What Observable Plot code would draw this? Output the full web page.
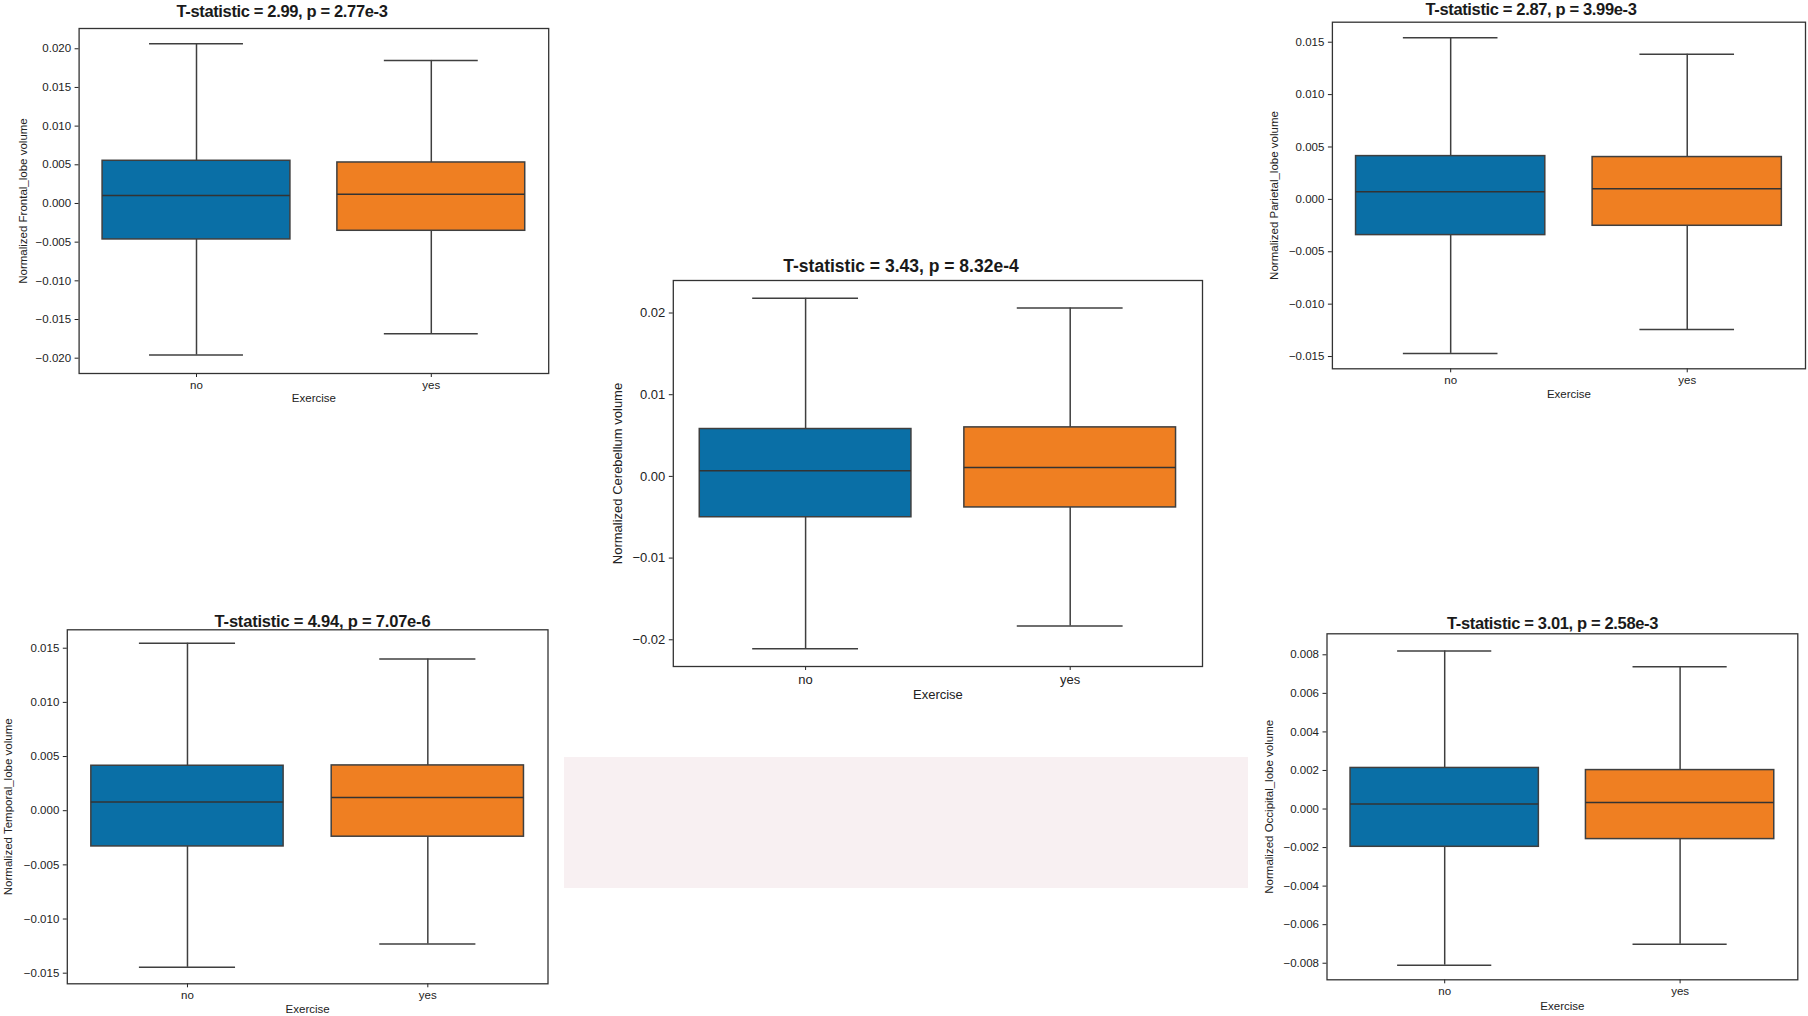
<!DOCTYPE html>
<html>
<head>
<meta charset="utf-8">
<script src="https://cdn.jsdelivr.net/npm/d3@7"></script>
<script src="https://cdn.jsdelivr.net/npm/@observablehq/plot@0.6"></script>
<style>
  html, body { margin: 0; padding: 0; background: #ffffff; }
  body { position: relative; width: 1808px; height: 1016px; overflow: hidden; font-family: "Liberation Sans", Arial, sans-serif; }
  .panel { position: absolute; }
  .title { position: absolute; white-space: nowrap; font-weight: bold; color: #1a1a1a; line-height: 1; transform: translateX(-50%); }
  .pink { position: absolute; left: 564px; top: 757px; width: 684px; height: 131px; background: #f8f0f2; }
</style>
</head>
<body>
<div class="pink"></div>
<script>
// ---------- data ----------
const categories = ["no", "yes"];
const xLabel = "Exercise";
// each array: [lower whisker, Q1, median, Q3, upper whisker]
const frontalNo  = [-0.0196, -0.00465, 0.00103, 0.00552, 0.02065];
const frontalYes = [-0.01685, -0.00353, 0.00118, 0.0053, 0.01849];
const cerebellumNo  = [-0.0211, -0.0050, 0.0007, 0.0058, 0.0218];
const cerebellumYes = [-0.0183, -0.0038, 0.0011, 0.0060, 0.0206];
const parietalNo  = [-0.0147, -0.00341, 0.00073, 0.00413, 0.01542];
const parietalYes = [-0.01241, -0.00252, 0.00101, 0.00404, 0.01384];
const temporalNo  = [-0.01446, -0.0033, 0.0008, 0.00415, 0.01546];
const temporalYes = [-0.0123, -0.0024, 0.00123, 0.00418, 0.0140];
const occipitalNo  = [-0.0081, -0.00196, 0.00026, 0.00213, 0.0082];
const occipitalYes = [-0.00701, -0.00156, 0.00034, 0.00202, 0.00738];

const frontalTicks    = [-0.020, -0.015, -0.010, -0.005, 0, 0.005, 0.010, 0.015, 0.020];
const cerebellumTicks = [-0.02, -0.01, 0, 0.01, 0.02];
const parietalTicks   = [-0.015, -0.010, -0.005, 0, 0.005, 0.010, 0.015];
const temporalTicks   = [-0.015, -0.010, -0.005, 0, 0.005, 0.010, 0.015];
const occipitalTicks  = [-0.008, -0.006, -0.004, -0.002, 0, 0.002, 0.004, 0.006, 0.008];

const frontalTitle    = "T-statistic = 2.99, p = 2.77e-3";
const cerebellumTitle = "T-statistic = 3.43, p = 8.32e-4";
const parietalTitle   = "T-statistic = 2.87, p = 3.99e-3";
const temporalTitle   = "T-statistic = 4.94, p = 7.07e-6";
const occipitalTitle  = "T-statistic = 3.01, p = 2.58e-3";

const frontalLabel    = "Normalized Frontal_lobe volume";
const cerebellumLabel = "Normalized Cerebellum volume";
const parietalLabel   = "Normalized Parietal_lobe volume";
const temporalLabel   = "Normalized Temporal_lobe volume";
const occipitalLabel  = "Normalized Occipital_lobe volume";

// ---------- layout / style ----------
const colors = ["#0a6fa6", "#ef7f22"];
const ink = "#3f3f3f";

const panels = [
  {title: frontalTitle, label: frontalLabel, no: frontalNo, yes: frontalYes, ticks: frontalTicks, fmt: ".3f",
   domain: [-0.02198, 0.02262], left: 0, top: 20, width: 560, height: 390, mL: 78.6, mR: 11.8, mT: 8, mB: 37,
   font: 11.5, tFont: 16.5, tLS: -0.35, tX: 282, tBase: 17.3, yLabX: 22.5, xLabY: 398, xPad: 3},
  {title: cerebellumTitle, label: cerebellumLabel, no: cerebellumNo, yes: cerebellumYes, ticks: cerebellumTicks, fmt: ".2f",
   domain: [-0.02327, 0.02398], left: 600, top: 275, width: 615, height: 435, mL: 72.8, mR: 13, mT: 5, mB: 44,
   font: 13, tFont: 17.5, tLS: 0, tX: 901, tBase: 272.7, yLabX: 617.8, xLabY: 694.5, xPad: 4},
  {title: parietalTitle, label: parietalLabel, no: parietalNo, yes: parietalYes, ticks: parietalTicks, fmt: ".3f",
   domain: [-0.01617, 0.01691], left: 1250, top: 15, width: 558, height: 395, mL: 81.9, mR: 3, mT: 6.7, mB: 41.7,
   font: 11.5, tFont: 16.5, tLS: -0.35, tX: 1531, tBase: 15, yLabX: 1274, xLabY: 394, xPad: 3},
  {title: temporalTitle, label: temporalLabel, no: temporalNo, yes: temporalYes, ticks: temporalTicks, fmt: ".3f",
   domain: [-0.01598, 0.0167], left: 0, top: 620, width: 560, height: 396, mL: 66.8, mR: 12.5, mT: 9.3, mB: 32.7,
   font: 11.5, tFont: 16.5, tLS: -0.2, tX: 322.5, tBase: 626.5, yLabX: 8, xLabY: 1008.5, xPad: 3},
  {title: occipitalTitle, label: occipitalLabel, no: occipitalNo, yes: occipitalYes, ticks: occipitalTicks, fmt: ".3f",
   domain: [-0.00886, 0.00909], left: 1250, top: 625, width: 558, height: 391, mL: 76.5, mR: 10.7, mT: 8.3, mB: 36.7,
   font: 11.5, tFont: 16.5, tLS: -0.35, tX: 1552.5, tBase: 629, yLabX: 1268.5, xLabY: 1006, xPad: 3.5}
];

for (const p of panels) {
  const rows = categories.map((c, i) => {
    const v = i === 0 ? p.no : p.yes;
    return {group: c, lo: v[0], q1: v[1], med: v[2], q3: v[3], hi: v[4]};
  });
  const W = p.width - p.mL - p.mR;
  const capInset = 0.1 * W;
  const frameBottom = p.top + p.height - p.mB;
  const frameLeft = p.left + p.mL;

  const chart = Plot.plot({
    width: p.width,
    height: p.height,
    marginLeft: p.mL,
    marginRight: p.mR,
    marginTop: p.mT,
    marginBottom: p.mB,
    style: {fontFamily: '"Liberation Sans", Arial, sans-serif', fontSize: p.font + "px", color: "#222", background: "transparent", overflow: "visible"},
    x: {type: "band", domain: categories, paddingInner: 0.2, paddingOuter: 0.1, round: false, tickSize: 4, tickPadding: p.xPad, label: null},
    y: {domain: p.domain, ticks: p.ticks, tickFormat: d3.format(p.fmt), tickSize: 4, tickPadding: 4, label: null},
    color: {domain: categories, range: colors},
    marks: [
      Plot.ruleX(rows, {x: "group", y1: "lo", y2: "q1", stroke: ink, strokeWidth: 1.5}),
      Plot.ruleX(rows, {x: "group", y1: "q3", y2: "hi", stroke: ink, strokeWidth: 1.5}),
      Plot.tickY(rows, {x: "group", y: "lo", insetLeft: capInset, insetRight: capInset, stroke: ink, strokeWidth: 1.5}),
      Plot.tickY(rows, {x: "group", y: "hi", insetLeft: capInset, insetRight: capInset, stroke: ink, strokeWidth: 1.5}),
      Plot.barY(rows, {x: "group", y1: "q1", y2: "q3", fill: "group", stroke: ink, strokeWidth: 1.5}),
      Plot.tickY(rows, {x: "group", y: "med", stroke: "#333", strokeWidth: 1.5}),
      Plot.frame({stroke: "#333", strokeWidth: 1.3}),
      Plot.text([p.label], {text: d => d, frameAnchor: "left", textAnchor: "middle", lineAnchor: "middle", rotate: -90, dx: p.yLabX - frameLeft, fontSize: p.font, fill: "#222"}),
      Plot.text([xLabel], {text: d => d, frameAnchor: "bottom", textAnchor: "middle", lineAnchor: "middle", dy: p.xLabY - frameBottom, fontSize: p.font, fill: "#222"})
    ]
  });
  const holder = document.createElement("div");
  holder.className = "panel";
  holder.style.left = p.left + "px";
  holder.style.top = p.top + "px";
  holder.appendChild(chart);
  document.body.appendChild(holder);

  const t = document.createElement("div");
  t.className = "title";
  t.textContent = p.title;
  t.style.fontSize = p.tFont + "px";
  t.style.letterSpacing = p.tLS + "px";
  t.style.left = p.tX + "px";
  t.style.top = (p.tBase - 0.8465 * p.tFont) + "px";
  document.body.appendChild(t);
}
</script>
</body>
</html>
